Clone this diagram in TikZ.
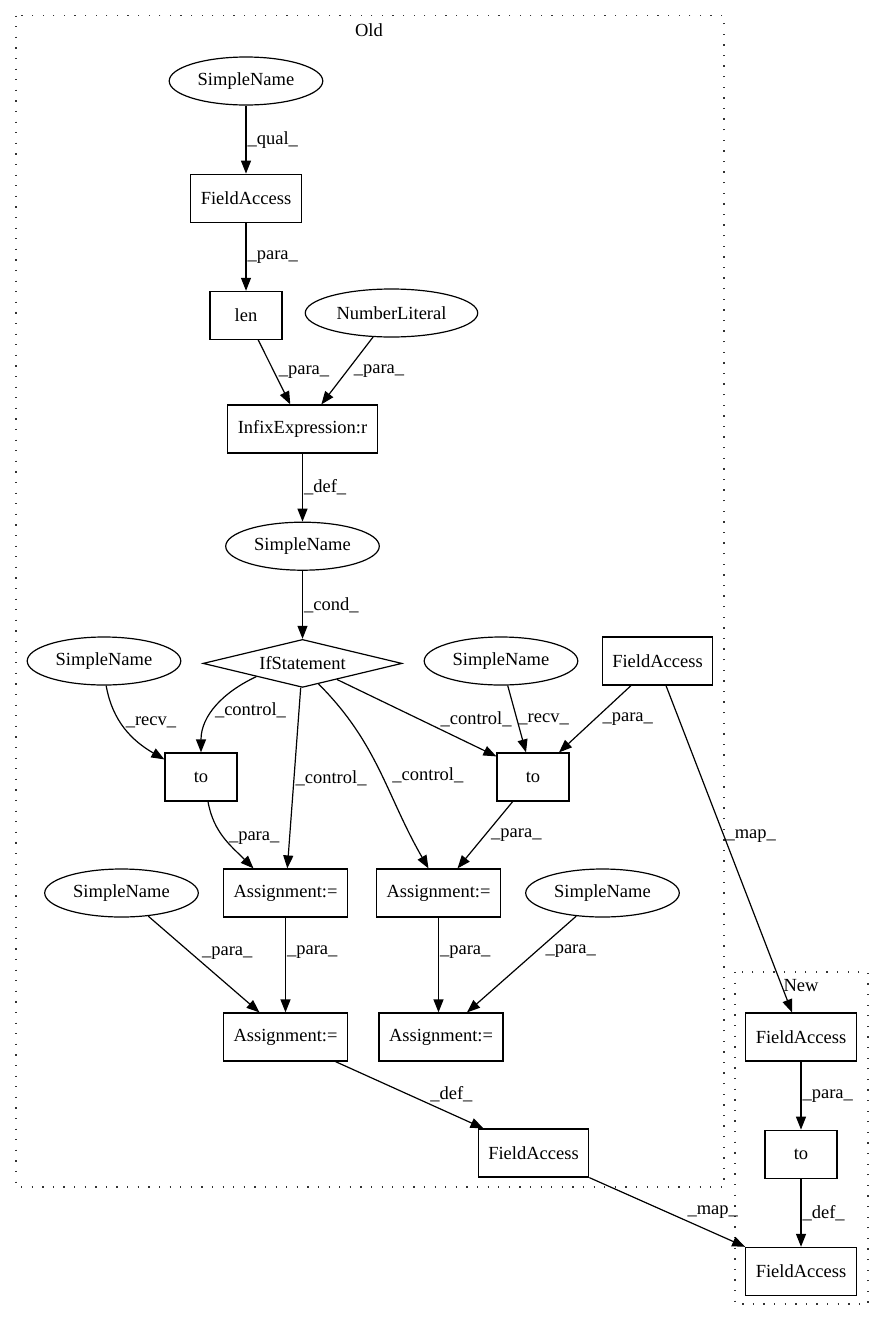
\documentclass[tikz,border=0pt]{standalone}
\usepackage{fontspec}
\setmainfont{Liberation Serif}
\usetikzlibrary{arrows.meta,positioning,shapes.geometric}
\newcommand{\gvfont}{\fontsize{18.5}{22}\selectfont}
\tikzset{
  box/.style={rectangle, draw=black, line width=1.2pt, minimum height=48pt, minimum width=72pt,
              inner xsep=10pt, font=\gvfont},
  oval/.style={ellipse, draw=black, line width=1.2pt, minimum height=48pt, inner xsep=6pt, font=\gvfont},
  cond/.style={diamond, aspect=4, draw=black, line width=1.2pt, minimum width=199pt,
               minimum height=48pt, inner sep=0pt, font=\gvfont},
  ar/.style={-{Triangle[length=13pt,width=10pt]}, line width=1.2pt},
  lbl/.style={font=\gvfont, inner sep=1pt},
  clu/.style={draw=black!80, line width=1.3pt, dash pattern=on 1.3pt off 9.3pt},
}

\begin{document}
\begin{tikzpicture}[x=1pt, y=-1pt, node distance=68pt and 30pt]
\useasboundingbox (0,0) rectangle (884,1320);
\draw[clu] (16,15.5) rectangle (724,1187);
\node[lbl] (oldlbl) at (369,30) {Old};
\draw[clu] (735,972) rectangle (868,1304);
\node[lbl] (newlbl) at (801,986) {New};

\node[oval] (sn1) at (246,81) {SimpleName};
\node[box, below=of sn1] (fa1) {FieldAccess};
\node[box, below=of fa1] (len) {len};
\node[oval] (numlit) at (391.5,313) {NumberLiteral};
\node[box] (infix) at (302.5,429) {InfixExpression:r};
\node[oval, below=of infix] (sn2) {SimpleName};
\node[cond, below=of sn2] (ifs) {IfStatement};
\node[oval] (sn3) at (104,661) {SimpleName};
\node[oval] (sn4) at (501,661) {SimpleName};
\node[box] (fa2) at (657.5,661) {FieldAccess};
\node[box] (to1) at (201,777) {to};
\node[box] (to2) at (533,777) {to};
\node[oval] (sn5) at (121.5,893) {SimpleName};
\node[box] (asg1) at (285.5,893) {Assignment:=};
\node[box] (asg2) at (438.5,893) {Assignment:=};
\node[oval] (sn6) at (602.5,893) {SimpleName};
\node[box] (asg3) at (285.5,1037) {Assignment:=};
\node[box] (asg4) at (441,1037) {Assignment:=};
\node[box] (fa3) at (533.5,1153) {FieldAccess};
\node[box] (fa4) at (801,1037) {FieldAccess};
\node[box, below=of fa4] (to3) {to};
\node[box, below=of to3] (fa5) {FieldAccess};

\draw[ar] (sn1) -- node[lbl, anchor=west] {\_qual\_} (fa1);
\draw[ar] (fa1) -- node[lbl, anchor=west] {\_para\_} (len);
\draw[ar] (len) -- node[lbl, anchor=west, xshift=3pt] {\_para\_} (infix);
\draw[ar] (numlit) -- node[lbl, anchor=west, xshift=5pt] {\_para\_} (infix);
\draw[ar] (infix) -- node[lbl, anchor=west] {\_def\_} (sn2);
\draw[ar] (sn2) -- node[lbl, anchor=west] {\_cond\_} (ifs);
\draw[ar] (ifs.196) to[out=205, in=90] node[lbl, pos=0.55, anchor=west] {\_control\_} (to1);
\draw[ar] (ifs) -- node[lbl, anchor=west] {\_control\_} (asg1);
\draw[ar] (ifs.-52) to[out=-45, in=120] node[lbl, pos=0.52, anchor=west, xshift=9pt] {\_control\_} ([xshift=-10pt]asg2.north);
\draw[ar] (ifs.-25) -- node[lbl, pos=0.64, anchor=south west] {\_control\_} ([yshift=-4pt]to2.north west);
\draw[ar] (sn3.-85) to[out=-80, in=150] node[lbl, pos=0.4, anchor=west, xshift=4pt] {\_recv\_} ([yshift=-7pt]to1.north west);
\draw[ar] (sn4) -- node[lbl, anchor=west] {\_recv\_} ([xshift=-7pt]to2.north);
\draw[ar] (fa2) -- node[lbl, anchor=west, xshift=6pt] {\_para\_} ([xshift=26pt]to2.north);
\draw[ar] ([xshift=8.5pt]fa2.south) -- node[lbl, pos=0.46, anchor=west] {\_map\_} ([xshift=-9pt]fa4.north);
\draw[ar] ([xshift=7pt]to1.south) to[out=-80, in=135] node[lbl, pos=0.5, anchor=west, xshift=3pt] {\_para\_} ([xshift=-32pt]asg1.north);
\draw[ar] (to2) -- node[lbl, anchor=west, xshift=4.5pt] {\_para\_} ([xshift=19pt]asg2.north);
\draw[ar] (sn5) -- node[lbl, pos=0.47, anchor=south west] {\_para\_} ([xshift=-26pt]asg3.north);
\draw[ar] (asg1) -- node[lbl, pos=0.36, anchor=west] {\_para\_} (asg3);
\draw[ar] (asg2) -- node[lbl, pos=0.36, anchor=west] {\_para\_} (asg2 |- asg4.north);
\draw[ar] (sn6) -- node[lbl, pos=0.36, anchor=west, xshift=7pt] {\_para\_} ([xshift=26pt]asg4.north);
\draw[ar] ([xshift=50pt]asg3.south) -- node[lbl, pos=0.63, anchor=south west] {\_def\_} ([xshift=-50pt]fa3.north);
\draw[ar] (fa3.south east) -- node[lbl, pos=0.62, anchor=south west] {\_map\_} (fa5.north west);
\draw[ar] (fa4) -- node[lbl, anchor=west] {\_para\_} (to3);
\draw[ar] (to3) -- node[lbl, anchor=west] {\_def\_} (fa5);
\end{tikzpicture}
\end{document}
